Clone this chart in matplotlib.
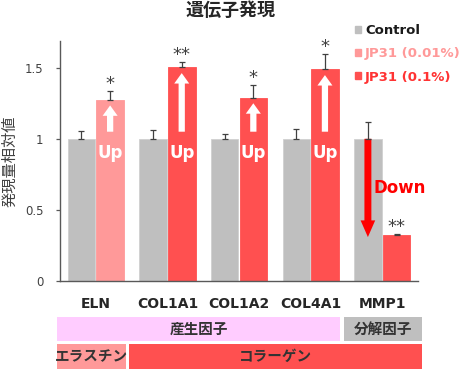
import matplotlib

matplotlib.use("Agg")
import matplotlib.pyplot as plt
import numpy as np
from matplotlib.patches import Rectangle, FancyArrowPatch
import matplotlib.transforms as mtransforms

plt.rcParams["font.family"] = ["DejaVu Sans", "Noto Sans CJK JP"]

genes = ["ELN", "COL1A1", "COL1A2", "COL4A1", "MMP1"]
control = [1.0, 1.0, 1.0, 1.0, 1.0]
control_err = [0.058, 0.063, 0.035, 0.068, 0.118]
treated = [1.275, 1.502, 1.29, 1.488, 0.324]
treated_err = [0.058, 0.038, 0.088, 0.108, 0.007]
treated_dose = ["low", "high", "high", "high", "high"]
stars = ["*", "**", "*", "*", "**"]
updown = ["Up", "Up", "Up", "Up", "Down"]

legend_labels = ["Control", "JP31 (0.01%)", "JP31 (0.1%)"]
GRAY = "#BFBFBF"
PINK = "#FF9999"
RED = "#FF5050"
DOSE_COLORS = {"low": PINK, "high": RED}

# category strips below the axis: (label, first gene, last gene, colour)
row1 = [("産生因子", 0, 3, "#FFCCFF"), ("分解因子", 4, 4, GRAY)]
row2 = [("エラスチン", 0, 0, PINK), ("コラーゲン", 1, 4, RED)]

fig = plt.figure(figsize=(4.68, 3.7), dpi=100)
ax = fig.add_axes([0.1282, 0.2405, 0.765, 0.6495])

x = np.arange(len(genes))
w = 0.385
off = 0.2
ax.bar(x - off, control, w, color=GRAY, edgecolor="#D0D0D0", linewidth=0.6,
       yerr=[np.zeros(5), control_err], ecolor="#404040",
       error_kw=dict(capsize=2.3, elinewidth=0.9, capthick=0.9))
tcolors = [DOSE_COLORS[d] for d in treated_dose]
ax.bar(x + off, treated, w, color=tcolors, edgecolor=tcolors, linewidth=0.6,
       yerr=[np.zeros(5), treated_err], ecolor="#404040",
       error_kw=dict(capsize=2.3, elinewidth=0.9, capthick=0.9))

for i in range(len(genes)):
    top = treated[i] + treated_err[i]
    ax.text(x[i] + off, top - 0.012, stars[i], ha="center", va="bottom",
            fontsize=13, color="#404040")
    if updown[i] == "Up":
        arr = FancyArrowPatch((x[i] + off, 1.05), (x[i] + off, treated[i] - 0.04),
                              arrowstyle="simple,head_length=0.75,head_width=1.08,tail_width=0.45",
                              mutation_scale=10, color="white", shrinkA=0, shrinkB=0, lw=0)
        ax.add_patch(arr)
        ax.text(x[i] + off, 0.9, "Up", ha="center", va="center", fontsize=12,
                fontweight="bold", color="white")
    else:
        arr = FancyArrowPatch((x[i] - off, 1.0), (x[i] - off, treated[i] - 0.015),
                              arrowstyle="simple,head_length=1.2,head_width=1.05,tail_width=0.5",
                              mutation_scale=10, color="#FF0000", shrinkA=0, shrinkB=0, lw=0)
        ax.add_patch(arr)
        ax.text(x[i] - off + 0.08, 0.655, "Down", ha="left", va="center", fontsize=12,
                fontweight="bold", color="#FF0000")

ax.set_xlim(-0.5, 4.5)
ax.set_ylim(0, 1.69)
ax.set_yticks([0, 0.5, 1, 1.5])
ax.set_yticklabels(["0", "0.5", "1", "1.5"])
ax.set_xticks(x)
ax.set_xticklabels(genes, fontsize=10, fontweight="bold", color="#262626")
ax.tick_params(axis="x", length=0, pad=11.5)
ax.tick_params(axis="y", length=3, width=0.9, color="#595959", labelsize=8.5,
               labelcolor="#404040", pad=9, direction="out")
for s in ["top", "right"]:
    ax.spines[s].set_visible(False)
for s in ["left", "bottom"]:
    ax.spines[s].set_color("#595959")
    ax.spines[s].set_linewidth(1.0)

# category strips
trans = mtransforms.blended_transform_factory(ax.transData, ax.transAxes)
for rows, (y0, y1) in [(row1, (-0.2497, -0.1486)), (row2, (-0.367, -0.262))]:
    for label, a, b, col in rows:
        left = a - 0.546 if a == 0 else a - 0.53
        right = b + 0.415 if b < 4 else b + 0.553
        rect = Rectangle((left, y0), right - left, y1 - y0, transform=trans,
                         facecolor=col, edgecolor="none", clip_on=False)
        ax.add_patch(rect)
        ax.text((left + right) / 2, (y0 + y1) / 2, label, transform=trans,
                ha="center", va="center", fontsize=10.5, fontweight="bold",
                color="#333333")

# title and y label
fig.text(0.492, 0.97, "遺伝子発現", ha="center", va="center", fontsize=13,
         fontweight="bold", color="#262626")
fig.text(0.022, 0.565, "発現量相対値", ha="center", va="center", rotation=90,
         fontsize=11, color="#404040")

# legend
handles = [Rectangle((0, 0), 1, 1, color=c) for c in [GRAY, PINK, RED]]
leg = fig.legend(handles, legend_labels, loc="upper left",
                 bbox_to_anchor=(355 / 468, 1 - 24 / 370), frameon=False,
                 fontsize=9.5, handlelength=0.45, handleheight=0.45,
                 handletextpad=0.3, labelspacing=0.78, borderpad=0,
                 borderaxespad=0)
for t, c in zip(leg.get_texts(), ["#1A1A1A", PINK, "#FF3333"]):
    t.set_color(c)
    t.set_fontweight("bold")

fig.savefig("out.png", dpi=100)
